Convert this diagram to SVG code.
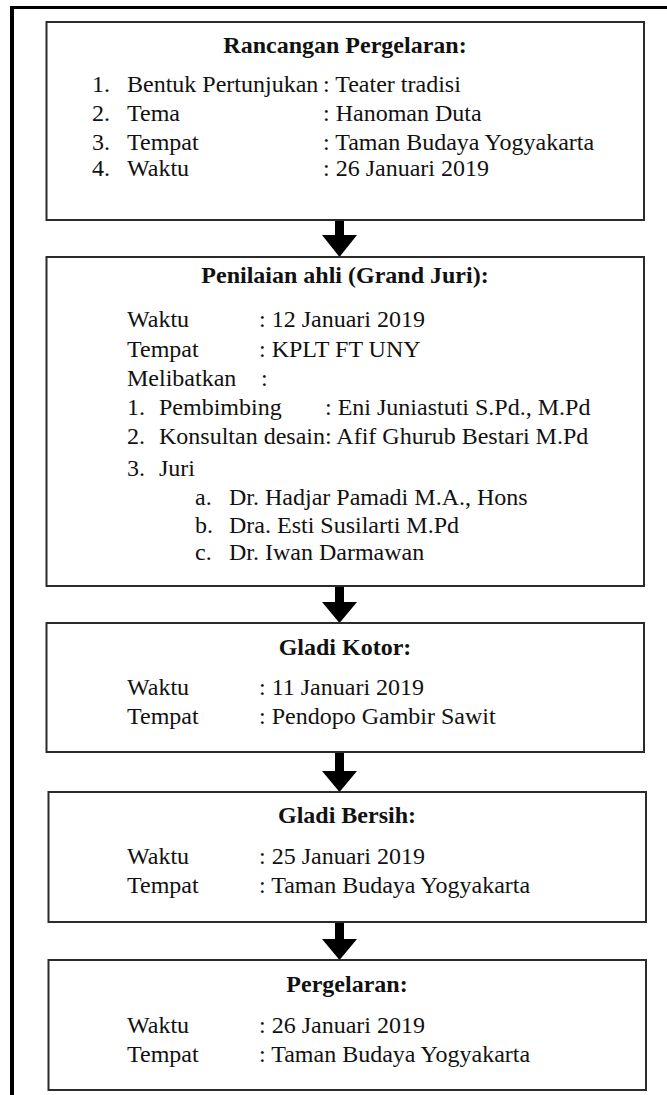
<svg xmlns="http://www.w3.org/2000/svg" width="667" height="1095" viewBox="0 0 667 1095">
<style>
  text { font-family: "Liberation Serif", "Times New Roman", serif; font-size: 24px; fill: #111; }
  .t { font-weight: bold; text-anchor: middle; }
  .box { fill: #fff; stroke: #2b2b2b; stroke-width: 2; }
  .frame { fill: #000; }
  .arrow { fill: #000; }
</style>
<rect x="0" y="0" width="667" height="1095" fill="#fff"/>
<g id="frame">
  <rect class="frame" x="10" y="6" width="657" height="3"/>
  <rect class="frame" x="10" y="6" width="4" height="1089"/>
</g>
<g id="connectors">
  <path class="arrow" d="M335,220 H344 V235 H357 L339.5,257 L322,235 H335 Z"/>
  <path class="arrow" d="M335,586 H344 V602 H357 L339.5,623 L322,602 H335 Z"/>
  <path class="arrow" d="M335,752 H344 V771 H357 L339.5,792 L322,771 H335 Z"/>
  <path class="arrow" d="M335,922 H344 V939 H357 L339.5,960 L322,939 H335 Z"/>
</g>
<g id="node-rancangan">
  <rect class="box" x="46.5" y="22" width="597.5" height="198"/>
  <text class="t" x="345" y="53">Rancangan Pergelaran:</text>
  <text x="92" y="92">1.</text><text x="127" y="92">Bentuk Pertunjukan</text><text x="323" y="92">: Teater tradisi</text>
  <text x="92" y="121">2.</text><text x="127" y="121">Tema</text><text x="323" y="121">: Hanoman Duta</text>
  <text x="92" y="150">3.</text><text x="127" y="150">Tempat</text><text x="323" y="150">: Taman Budaya Yogyakarta</text>
  <text x="92" y="176">4.</text><text x="127" y="176">Waktu</text><text x="323" y="176">: 26 Januari 2019</text>
</g>
<g id="node-penilaian">
  <rect class="box" x="46.5" y="257" width="597.5" height="329"/>
  <text class="t" x="345" y="283">Penilaian ahli (Grand Juri):</text>
  <text x="127" y="327">Waktu</text><text x="259" y="327">: 12 Januari 2019</text>
  <text x="127" y="357">Tempat</text><text x="259" y="357">: KPLT FT UNY</text>
  <text x="127" y="386">Melibatkan</text><text x="261" y="386">:</text>
  <text x="127" y="415">1.</text><text x="159" y="415">Pembimbing</text><text x="325" y="415">: Eni Juniastuti S.Pd., M.Pd</text>
  <text x="127" y="444">2.</text><text x="159" y="444">Konsultan desain: Afif Ghurub Bestari M.Pd</text>
  <text x="127" y="476">3.</text><text x="159" y="476">Juri</text>
  <text x="195" y="505">a.</text><text x="229" y="505">Dr. Hadjar Pamadi M.A., Hons</text>
  <text x="195" y="533">b.</text><text x="229" y="533">Dra. Esti Susilarti M.Pd</text>
  <text x="195" y="560">c.</text><text x="229" y="560">Dr. Iwan Darmawan</text>
</g>
<g id="node-gladi-kotor">
  <rect class="box" x="46.5" y="623" width="597.5" height="129"/>
  <text class="t" x="345" y="655">Gladi Kotor:</text>
  <text x="127" y="695">Waktu</text><text x="259" y="695">: 11 Januari 2019</text>
  <text x="127" y="724">Tempat</text><text x="259" y="724">: Pendopo Gambir Sawit</text>
</g>
<g id="node-gladi-bersih">
  <rect class="box" x="48.5" y="792" width="597.5" height="130"/>
  <text class="t" x="347" y="823">Gladi Bersih:</text>
  <text x="127" y="864">Waktu</text><text x="259" y="864">: 25 Januari 2019</text>
  <text x="127" y="893">Tempat</text><text x="259" y="893">: Taman Budaya Yogyakarta</text>
</g>
<g id="node-pergelaran">
  <rect class="box" x="48.5" y="960" width="597.5" height="130"/>
  <text class="t" x="347" y="992">Pergelaran:</text>
  <text x="127" y="1033">Waktu</text><text x="259" y="1033">: 26 Januari 2019</text>
  <text x="127" y="1062">Tempat</text><text x="259" y="1062">: Taman Budaya Yogyakarta</text>
</g>
</svg>
